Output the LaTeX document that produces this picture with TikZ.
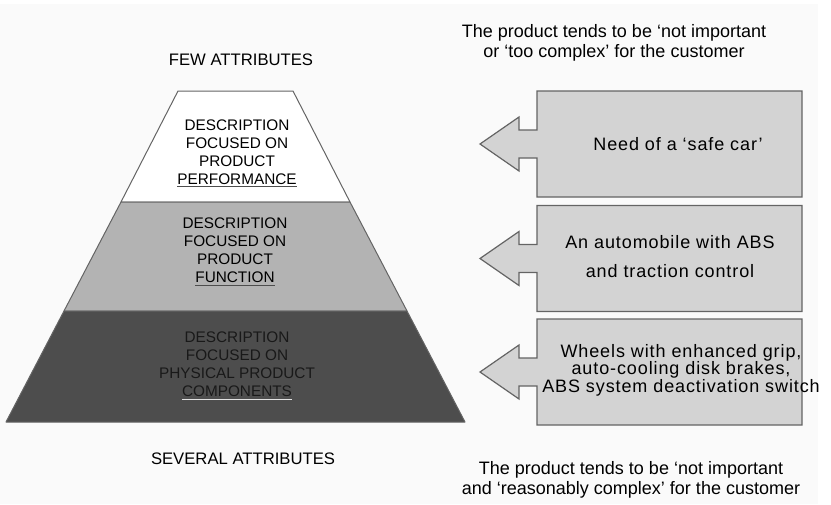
\documentclass[tikz,border=0pt]{standalone}
\usepackage{fontspec}
\setmainfont{Liberation Sans}

\definecolor{pagegray}{RGB}{250,250,250}
\definecolor{edgegray}{RGB}{100,100,100}
\definecolor{midlayer}{RGB}{179,179,179}
\definecolor{darklayer}{RGB}{77,77,77}
\definecolor{boxgray}{RGB}{211,211,211}
\definecolor{inkgray}{RGB}{25,25,25}
\definecolor{rulelight}{RGB}{225,225,225}

\tikzset{
  layer/.style={draw=edgegray, line width=0.75pt, line join=round},
  tiertext/.style={align=center, inner sep=0pt, font=\fontsize{11.5}{13.5}\selectfont},
  endlabel/.style={inner sep=0pt, font=\fontsize{12.5}{14}\selectfont},
  needshape/.style={draw=edgegray, fill=boxgray, line width=0.9pt},
  needtext/.style={align=center, inner sep=0pt, font=\fontsize{13.5}{13.2}\selectfont\addfontfeatures{LetterSpace=5}},
  remark/.style={align=center, inner sep=0pt, font=\fontsize{13.5}{14.5}\selectfont},
  needarrow/.pic={
    \filldraw[needshape] (0,-53) -- (265,-53) -- (265,53) -- (0,53) -- (0,14) -- (-18,14)
      -- (-18,27) -- (-57,0) -- (-18,-27) -- (-18,-14) -- (0,-14) -- cycle;
  }
}

\begin{document}
\begin{tikzpicture}[x=0.75pt,y=-0.75pt]
\useasboundingbox (0,0) rectangle (831,504);
\fill[pagegray] (0,4) rectangle (818,504);

% pyramid of descriptions
\filldraw[layer, fill=white] (178,91) -- (293,91) -- (350,202) -- (121,202) -- cycle;
\filldraw[layer, fill=midlayer] (121,202) -- (350,202) -- (407,311) -- (64,311) -- cycle;
\filldraw[layer, fill=darklayer] (64,311) -- (407,311) -- (465,422) -- (6,422) -- cycle;

\node[endlabel] (few) at (241,60) {FEW ATTRIBUTES};
\node[endlabel] (several) at (243,459) {SEVERAL ATTRIBUTES};

\node[tiertext] (perf) at (237,153.5) {DESCRIPTION\\FOCUSED ON\\PRODUCT\\{\color{darklayer}\underline{\textcolor{black}{PERFORMANCE}}}};
\node[tiertext] (func) at (235,252) {DESCRIPTION\\FOCUSED ON\\PRODUCT\\{\color{darklayer}\underline{\textcolor{black}{FUNCTION}}}};
\node[tiertext, text=inkgray] (comp) at (237,366) {DESCRIPTION\\FOCUSED ON\\PHYSICAL PRODUCT\\{\color{rulelight}\underline{\textcolor{inkgray}{COMPONENTS}}}};

% customer needs
\pic at (537,144) {needarrow};
\pic at (537,258.5) {needarrow};
\pic at (537,372) {needarrow};

\node[needtext] (safe) at (678,144) {Need of a `safe car'};
\node[needtext] (abs) at (670,256.5) {An automobile with ABS\\[8.5pt]and traction control};
\node[needtext] (wheels) at (681,370) {Wheels with enhanced grip,\\auto-cooling disk brakes,\\ABS system deactivation switch};

\node[remark] (upper) at (614,43) {The product tends to be `not important\\or `too complex' for the customer};
\node[remark] (lower) at (631,480) {The product tends to be `not important\\and `reasonably complex' for the customer};
\end{tikzpicture}
\end{document}
